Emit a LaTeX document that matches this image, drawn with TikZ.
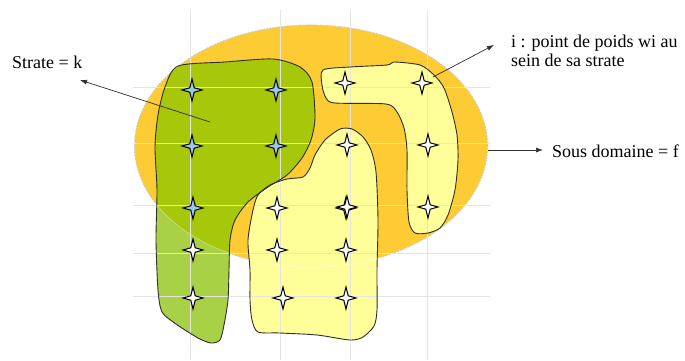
\documentclass[tikz,border=0pt]{standalone}
\usepackage{fontspec}
\setmainfont{Liberation Serif}
\usetikzlibrary{arrows.meta}
\definecolor{ellcol}{HTML}{FDCB33}
\definecolor{dgreen}{HTML}{A6C70A}
\definecolor{lgreen}{HTML}{A8D145}
\definecolor{pyellow}{HTML}{FFFF99}
\definecolor{sblue}{HTML}{9CC8EE}
\definecolor{gridc}{HTML}{E4E4E4}
\definecolor{edgec}{HTML}{2E2E2E}
\def\greenpath{plot[smooth cycle, tension=0.45] coordinates {(178,66) (225,62) (273,59) (300,67) (312,82) (315,118) (311,140) (302,158) (287,175) (268,187) (248,202) (235,220) (230,240) (229,270) (228,300) (224,325) (220,340) (211,343) (198,338) (176,324) (162,312) (158,290) (156,240) (157,190) (155,147) (158,115) (165,87)}}
\def\yellowApath{plot[smooth cycle, tension=0.45] coordinates {(253,210) (258,195) (270,185) (287,179) (303,177) (310,168) (315,155) (325,140) (340,129) (352,129) (363,137) (371,150) (376,172) (378,220) (377,270) (377,310) (374,326) (363,337) (350,340) (317,335) (280,333) (258,332) (252,320) (250,300) (250,270) (248,240)}}
\def\yellowBpath{plot[smooth cycle, tension=0.45] coordinates {(323,70) (350,67) (387,65) (394,62) (420,65) (434,75) (444,88) (452,112) (457,135) (458,160) (455,190) (448,215) (440,228) (428,233) (415,233) (409,222) (407,190) (407,150) (404,128) (397,112) (386,104) (335,103) (326,98) (322,85)}}
\begin{document}
\begin{tikzpicture}[x=1pt,y=-1pt,
  zone/.style={draw=edgec, line width=0.9pt, line join=round},
  gridline/.style={draw=gridc, line width=0.8pt},
  arr/.style={draw=edgec, line width=0.7pt, -{Latex[length=7pt,width=5pt]}},
  lbl/.style={font=\fontsize{18}{18.5}\selectfont, inner sep=0pt, align=left, text=black},
  pics/etoile/.style={code={\filldraw[fill=#1, draw=black, line width=1pt, line join=miter] (0,-11) -- (2.2,-2.2) -- (10,0) -- (2.2,2.2) -- (0,11) -- (-2.2,2.2) -- (-10,0) -- (-2.2,-2.2) -- cycle;}},
  pics/etoile/.default=white]
\useasboundingbox (0,0) rectangle (685,360);
\fill[white] (0,0) rectangle (685,360);
% sub-domain ellipse
\fill[ellcol] (311,146) ellipse [x radius=176.5pt, y radius=121pt];
\draw[gray!70, line width=0.6pt, dash pattern=on 2pt off 1pt] (311,146) ellipse [x radius=176.5pt, y radius=121pt];
% strata
\fill[lgreen] \greenpath;
\begin{scope}
\clip (311,146) ellipse [x radius=176.5pt, y radius=121pt];
\fill[dgreen] \greenpath;
\end{scope}
\fill[pyellow] \yellowApath;
\fill[pyellow] \yellowBpath;
\draw[white, opacity=0.35, line width=0.8pt] (311,146) ellipse [x radius=176.5pt, y radius=121pt];
% grid
\foreach \gx in {190,280,350,427} \draw[gridline] (\gx,10) -- (\gx,360);
\foreach \gy in {87,143,205,253,296} \draw[gridline] (133,\gy) -- (490,\gy);
% outlines
\draw[zone] \greenpath;
\draw[zone] \yellowApath;
\draw[zone] \yellowBpath;
% points
\foreach \p in {(192,90),(276,90),(192,146),(276,146),(193,208)} \pic at \p {etoile=sblue};
\foreach \p in {(193,250),(193,298),(277,208),(346,208),(277,250),(346,250),(283,298),(346,298),(345,83),(422,83),(347,145),(428,145),(347,207),(428,207)} \pic at \p {etoile};
% labels
\node[lbl, anchor=base west] (strate) at (12,68) {Strate = k};
\node[lbl, anchor=north west] (point) at (511,35) {i : point de poids wi au\\sein de sa strate};
\node[lbl, anchor=base west] (sous) at (552,157) {Sous domaine = f};
% connectors
\coordinate (kA) at (210,122); \coordinate (kB) at (80,80);
\coordinate (iA) at (433,77); \coordinate (iB) at (494,45);
\coordinate (fA) at (488,150); \coordinate (fB) at (543,150);
\draw[arr] (kA) -- (kB);
\draw[arr] (iA) -- (iB);
\draw[arr] (fA) -- (fB);
\end{tikzpicture}
\end{document}
